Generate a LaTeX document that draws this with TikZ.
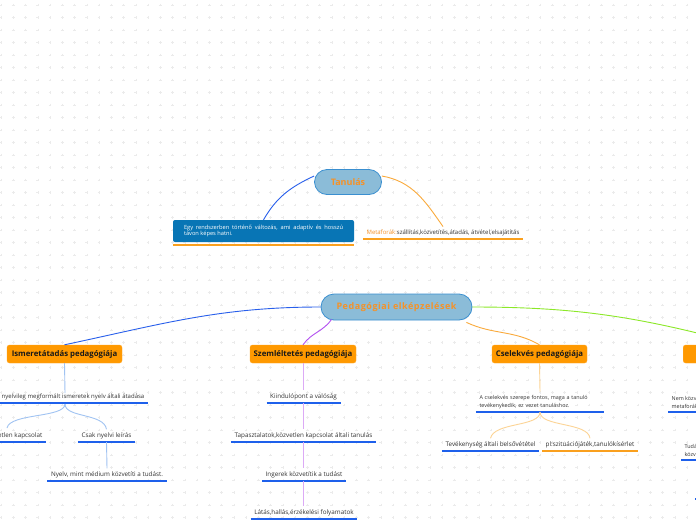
\documentclass[tikz,border=0pt]{standalone}
\usepackage{fontspec}
\setmainfont{Open Sans}
\usetikzlibrary{calc}
\definecolor{pillfill}{RGB}{139,188,216}
\definecolor{pillborder}{RGB}{58,143,208}
\definecolor{torange}{RGB}{245,146,40}
\definecolor{boxorange}{RGB}{255,153,0}
\definecolor{defblue}{RGB}{8,117,181}
\definecolor{ublue}{RGB}{30,96,235}
\definecolor{uorange}{RGB}{250,160,30}
\definecolor{cblue}{RGB}{40,95,235}
\definecolor{lblue}{RGB}{160,195,242}
\definecolor{cpurple}{RGB}{178,78,240}
\definecolor{lpurple}{RGB}{220,170,246}
\definecolor{corange}{RGB}{250,170,60}
\definecolor{lorange}{RGB}{252,212,150}
\definecolor{cgreen}{RGB}{140,232,40}
\definecolor{txtgray}{RGB}{50,50,50}
\tikzset{
  pill/.style={rounded corners=12.5pt, draw=pillborder, line width=0.8pt, fill=pillfill,
    text=torange, font=\bfseries\fontsize{9}{10}\selectfont, minimum height=25pt, inner sep=0pt},
  obox/.style={rounded corners=2.5pt, fill=boxorange, draw=boxorange!85!white, line width=0.4pt,
    text=black!90, font=\bfseries\fontsize{7.8}{9}\selectfont, minimum height=18pt, inner sep=0pt},
  txt/.style={text=txtgray, font=\fontsize{6.3}{9}\selectfont, inner xsep=3.5pt, inner ysep=3pt},
  ulb/.style={draw=ublue, line width=1.5pt},
  ulo/.style={draw=uorange, line width=1.5pt},
  conn/.style={line width=0.9pt}
}
\begin{document}
\begin{tikzpicture}[x=1pt,y=-1pt]
\useasboundingbox (0,0) rectangle (696,520);
\clip (0,0) rectangle (696,520);
\fill[white] (0,0) rectangle (696,520);
% background plus grid
\foreach \i in {0,...,56} {
  \foreach \j in {0,...,41} {
    \draw[black!8, line width=0.35pt] ({1+12.25*\i-1.3},{5+12.5*\j}) -- ++(2.6,0)
      ({1+12.25*\i},{5+12.5*\j-1.3}) -- ++(0,2.6);
  }
}

% ---------- Tanulás ----------
\node[pill, minimum width=67pt] (tan) at (348,182) {Tanulás};
\node[rounded corners=2pt, fill=defblue, text=white, font=\fontsize{5.7}{6.6}\selectfont,
  text width=159pt, align=justify, minimum width=181pt, minimum height=22pt, inner xsep=4pt, inner ysep=3pt]
  (def) at (263.5,231) {Egy rendszerben történő változás, ami adaptív és hosszú\linebreak távon képes hatni.\par};
\draw[draw=uorange, line width=2.5pt] ([yshift=-3pt]def.south west) -- ([yshift=-3pt]def.south east);
\node[txt, anchor=south, inner xsep=3pt, font=\fontsize{6}{8}\selectfont] (met) at (443,239)
  {{\color{torange}Metaforák:}szállítás,közvetítés,átadás, átvétel,elsajátítás};
\draw[ulo] (met.south west) -- (met.south east);
\draw[conn, cblue] ([yshift=6pt]tan.west) to[out=205,in=60] (def.north);
\draw[conn, corange] ([yshift=6pt]tan.east) to[out=-10,in=125] (met.north);

% ---------- Pedagógiai elképzelések ----------
\node[pill, minimum width=151pt, minimum height=26pt, rounded corners=13pt,
  font=\bfseries\fontsize{9}{10}\selectfont\addfontfeature{LetterSpace=6}] (ped) at (396.5,307) {Pedagógiai elképzelések};

\node[obox, minimum width=115pt] (ism) at (64.5,354) {Ismeretátadás pedagógiája};
\node[obox, minimum width=106pt] (sze) at (303,354) {Szemléltetés pedagógiája};
\node[obox, minimum width=95pt] (cse) at (539.5,354) {Cselekvés pedagógiája};
\node[obox, minimum width=120pt, anchor=west] (kon) at (683,354) {Konstruktív pedagógiája};

\draw[conn, cblue] (ped.west) to[out=180,in=12] (ism.north);
\draw[conn, cpurple] ([xshift=11pt,yshift=1pt]ped.south west) to[out=235,in=55] (sze.north);
\draw[conn, corange] ([xshift=-6pt,yshift=-2pt]ped.south east) to[out=-25,in=150] (cse.north);
\draw[conn, cgreen] (ped.east) to[out=0,in=165] (kon.north);

% ---------- Ismeretátadás ----------
\node[txt, anchor=south east, font=\fontsize{6}{9}\selectfont] (i1) at (148,403) {A nyelvileg megformált ismeretek nyelv általi átadása};
\draw[ulb] (i1.south west) -- (i1.south east);
\node[txt, anchor=south east] (i2) at (46,442) {Közvetlen kapcsolat};
\draw[ulb] (i2.south west) -- (i2.south east);
\node[txt, anchor=south] (i3) at (106.5,442) {Csak nyelvi leírás};
\draw[ulb] (i3.south west) -- (i3.south east);
\node[txt, anchor=south] (i4) at (107,481) {Nyelv, mint médium közvetíti a tudást.};
\draw[ulb] (i4.south west) -- (i4.south east);
\coordinate (ib) at (65,404);
\draw[conn, lblue] (ism.south) -- (65,393);
\draw[conn, lblue] (ib) .. controls (65,418) and (10,413) .. (7,428);
\draw[conn, lblue] (ib) .. controls (65,418) and (104,413) .. (i3.north);
\draw[conn, lblue] (i3.south) -- (i4.north);

% ---------- Szemléltetés ----------
\node[txt, anchor=south] (s1) at (303.5,403) {Kiindulópont a valóság};
\node[txt, anchor=south] (s2) at (303.5,442) {Tapasztalatok,közvetlen kapcsolat általi tanulás};
\node[txt, anchor=south] (s3) at (304,481) {Ingerek közvetítik a tudást};
\node[txt, anchor=south] (s4) at (304,519) {Látás,hallás,érzékelési folyamatok};
\foreach \n in {s1,s2,s3,s4} {\draw[ulb] (\n.south west) -- (\n.south east);}
\draw[conn, lpurple] (sze.south) -- (sze.south |- s1.north);
\draw[conn, lpurple] (sze.south |- s1.south) -- (sze.south |- s2.north);
\draw[conn, lpurple] (sze.south |- s2.south) -- (sze.south |- s3.north);
\draw[conn, lpurple] (sze.south |- s3.south) -- (sze.south |- s4.north);

% ---------- Cselekvés ----------
\node[txt, anchor=south, align=left, text width=121pt, font=\fontsize{5.4}{8.5}\selectfont] (c1) at (540,412)
  {A cselekvés szerepe fontos, maga a tanuló\\tevékenykedik, ez vezet tanuláshoz.};
\draw[ulb] (c1.south west) -- (c1.south east);
\node[txt, anchor=south] (c2) at (490.5,451) {Tevékenység általi belsővététel};
\draw[ulb] (c2.south west) -- (c2.south east);
\node[txt, anchor=south] (c3) at (590,451) {pl:szituációjáték,tanulókísérlet};
\draw[ulo] (c3.south west) -- (c3.south east);
\draw[conn, lorange] (cse.south) -- (c1.north);
\draw[conn, lorange] (c1.south) .. controls (540,427) and (494,422) .. (c2.north);
\draw[conn, lorange] (c1.south) .. controls (540,427) and (588,422) .. (c3.north);

% ---------- Konstruktív (cut off) ----------
\node[txt, anchor=south west, align=left, font=\fontsize{5.4}{8.5}\selectfont] (k1) at (668,412) {Nem közvetlen átadás,\\metaforák};
\draw[ulb] (k1.south west) -- (k1.south east);
\node[txt, anchor=south west, align=left, font=\fontsize{5.4}{8.5}\selectfont] (k2) at (681,460) {Tudás\\közvetítése};
\draw[ulb] (k2.south west) -- (k2.south east);
\node[txt, anchor=south west] (k3) at (695,499) {Tudás};
\draw[ulb] (k3.south west) -- (k3.south east);
\end{tikzpicture}
\end{document}
